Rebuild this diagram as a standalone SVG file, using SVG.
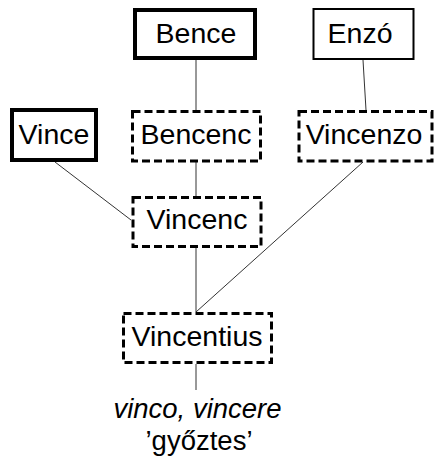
<svg xmlns="http://www.w3.org/2000/svg" width="434" height="458" viewBox="0 0 434 458">
<style>
  .t { font-family: "Liberation Sans", Arial, sans-serif; font-size: 28.5px; fill: #000; text-anchor: middle; }
  .e { font-family: "Liberation Sans", Arial, sans-serif; font-size: 27.5px; fill: #000; text-anchor: middle; }
  .thick { fill: #fff; stroke: #000; stroke-width: 4; }
  .thin { fill: #fff; stroke: #000; stroke-width: 2; }
  .dash { fill: #fff; stroke: #000; stroke-width: 3; stroke-dasharray: 8 4; }
  .conn line { stroke: #333; stroke-width: 1; }
</style>
<rect x="0" y="0" width="434" height="458" fill="#fff"/>
<g class="conn" id="connectors">
  <line x1="196" y1="60" x2="196" y2="110"/>
  <line x1="363" y1="60" x2="366" y2="110"/>
  <line x1="55" y1="162" x2="131" y2="220"/>
  <line x1="196" y1="162" x2="196" y2="196"/>
  <line x1="363" y1="162" x2="196" y2="312"/>
  <line x1="196" y1="248" x2="196" y2="312"/>
  <line x1="196" y1="364" x2="196" y2="390"/>
</g>
<g id="bence">
  <rect class="thick" x="135" y="10" width="120" height="48"/>
  <text class="t" x="196" y="43">Bence</text>
</g>
<g id="enzo">
  <rect class="thin" x="313.5" y="9" width="100" height="50"/>
  <text class="t" x="360" y="43">Enzó</text>
</g>
<g id="vince">
  <rect class="thick" x="12" y="110" width="84" height="50"/>
  <text class="t" x="54" y="144">Vince</text>
</g>
<g id="bencenc">
  <rect class="dash" x="132.5" y="111.5" width="128" height="49.5"/>
  <text class="t" x="196" y="144">Bencenc</text>
</g>
<g id="vincenzo">
  <rect class="dash" x="299" y="111.5" width="133" height="49.5"/>
  <text class="t" x="364" y="144">Vincenzo</text>
</g>
<g id="vincenc">
  <rect class="dash" x="133" y="197.5" width="128" height="49"/>
  <text class="t" x="197" y="229">Vincenc</text>
</g>
<g id="vincentius">
  <rect class="dash" x="123.5" y="313.5" width="148" height="49"/>
  <text class="t" x="197" y="346">Vincentius</text>
</g>
<g id="etymon">
  <text class="e" x="197.5" y="418" font-style="italic">vinco, vincere</text>
  <text class="e" x="199" y="450">’győztes’</text>
</g>
</svg>
